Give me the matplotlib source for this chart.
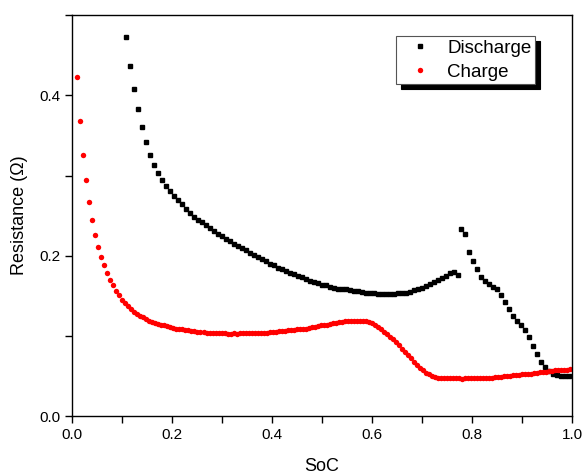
import matplotlib.pyplot as plt
from matplotlib.ticker import MultipleLocator

plt.rcParams['font.family'] = ['Liberation Sans', 'DejaVu Sans']

# discharge (black squares)
soc_dis = [
    0.108, 0.116, 0.124, 0.132, 0.140, 0.148, 0.156, 0.164, 0.172, 0.180,
    0.188, 0.196, 0.204, 0.212, 0.220, 0.228, 0.236, 0.244, 0.252, 0.260,
    0.268, 0.276, 0.284, 0.292, 0.300, 0.308, 0.316, 0.324, 0.332, 0.340,
    0.348, 0.356, 0.364, 0.372, 0.380, 0.388, 0.396, 0.404, 0.412, 0.420,
    0.428, 0.436, 0.444, 0.452, 0.460, 0.468, 0.476, 0.484, 0.492, 0.500,
    0.508, 0.516, 0.524, 0.532, 0.540, 0.548, 0.556, 0.564, 0.572, 0.580,
    0.588, 0.596, 0.604, 0.612, 0.620, 0.628, 0.636, 0.644, 0.652, 0.660,
    0.668, 0.676, 0.684, 0.692, 0.700, 0.708, 0.716, 0.724, 0.732, 0.740,
    0.748, 0.756, 0.764, 0.772,
    0.778, 0.786, 0.794, 0.802, 0.810, 0.818, 0.826, 0.834, 0.842, 0.850,
    0.858, 0.866, 0.874, 0.882, 0.890, 0.898, 0.906, 0.914, 0.922, 0.930,
    0.938, 0.946, 0.954, 0.962, 0.970, 0.978, 0.986, 0.994]
res_dis = [
    0.473, 0.437, 0.408, 0.383, 0.360, 0.342, 0.326, 0.313, 0.303, 0.295,
    0.287, 0.281, 0.275, 0.269, 0.264, 0.258, 0.253, 0.248, 0.245, 0.242,
    0.238, 0.234, 0.231, 0.227, 0.224, 0.221, 0.218, 0.215, 0.212, 0.209,
    0.207, 0.204, 0.201, 0.199, 0.196, 0.193, 0.190, 0.188, 0.185, 0.183,
    0.181, 0.179, 0.177, 0.175, 0.173, 0.171, 0.169, 0.167, 0.166, 0.164,
    0.163, 0.161, 0.160, 0.159, 0.159, 0.158, 0.157, 0.156, 0.156, 0.155,
    0.154, 0.153, 0.153, 0.152, 0.152, 0.152, 0.152, 0.152, 0.153, 0.153,
    0.154, 0.155, 0.157, 0.158, 0.160, 0.162, 0.165, 0.167, 0.170, 0.172,
    0.175, 0.178, 0.180, 0.176,
    0.233, 0.227, 0.205, 0.193, 0.183, 0.174, 0.168, 0.165, 0.161, 0.159,
    0.151, 0.142, 0.133, 0.125, 0.119, 0.114, 0.107, 0.098, 0.087, 0.077,
    0.068, 0.061, 0.056, 0.053, 0.051, 0.050, 0.050, 0.050]

# charge (red dots)
soc_chg = [
    0.011, 0.017, 0.023, 0.029, 0.035, 0.041, 0.047, 0.053, 0.059, 0.065,
    0.071, 0.077, 0.083, 0.089, 0.095, 0.101, 0.107, 0.113, 0.119, 0.125,
    0.131, 0.137, 0.143, 0.149, 0.155, 0.161, 0.167, 0.173, 0.179, 0.185,
    0.191, 0.197, 0.203, 0.209, 0.215, 0.221, 0.227, 0.233, 0.239, 0.245,
    0.251, 0.257, 0.263, 0.269, 0.275, 0.281, 0.287, 0.293, 0.299, 0.305,
    0.311, 0.317, 0.323, 0.329, 0.335, 0.341, 0.347, 0.353, 0.359, 0.365,
    0.371, 0.377, 0.383, 0.389, 0.395, 0.401, 0.407, 0.413, 0.419, 0.425,
    0.431, 0.437, 0.443, 0.449, 0.455, 0.461, 0.467, 0.473, 0.479, 0.485,
    0.491, 0.497, 0.503, 0.509, 0.515, 0.521, 0.527, 0.533, 0.539, 0.545,
    0.551, 0.557, 0.563, 0.569, 0.575, 0.581, 0.587, 0.593, 0.599, 0.605,
    0.611, 0.617, 0.623, 0.629, 0.635, 0.641, 0.647, 0.653, 0.659, 0.665,
    0.671, 0.677, 0.683, 0.689, 0.695, 0.701, 0.707, 0.713, 0.719, 0.725,
    0.731, 0.737, 0.743, 0.749, 0.755, 0.761, 0.767, 0.773, 0.779, 0.785,
    0.791, 0.797, 0.803, 0.809, 0.815, 0.821, 0.827, 0.833, 0.839, 0.845,
    0.851, 0.857, 0.863, 0.869, 0.875, 0.881, 0.887, 0.893, 0.899, 0.905,
    0.911, 0.917, 0.923, 0.929, 0.935, 0.941, 0.947, 0.953, 0.959, 0.965,
    0.971, 0.977, 0.983, 0.989, 0.995]
res_chg = [
    0.423, 0.368, 0.326, 0.294, 0.267, 0.245, 0.226, 0.211, 0.199, 0.188,
    0.179, 0.170, 0.163, 0.156, 0.151, 0.145, 0.141, 0.137, 0.133, 0.130,
    0.127, 0.125, 0.123, 0.121, 0.119, 0.117, 0.116, 0.115, 0.114, 0.113,
    0.112, 0.111, 0.110, 0.109, 0.108, 0.108, 0.107, 0.107, 0.106, 0.106,
    0.105, 0.105, 0.105, 0.104, 0.104, 0.104, 0.103, 0.103, 0.103, 0.103,
    0.102, 0.102, 0.103, 0.102, 0.103, 0.103, 0.103, 0.103, 0.104, 0.103,
    0.104, 0.104, 0.104, 0.104, 0.105, 0.105, 0.105, 0.106, 0.106, 0.106,
    0.107, 0.107, 0.107, 0.108, 0.108, 0.109, 0.109, 0.110, 0.111, 0.111,
    0.112, 0.113, 0.114, 0.114, 0.115, 0.116, 0.116, 0.117, 0.117, 0.118,
    0.118, 0.118, 0.119, 0.119, 0.119, 0.118, 0.118, 0.117, 0.116, 0.114,
    0.111, 0.108, 0.105, 0.102, 0.099, 0.096, 0.092, 0.088, 0.084, 0.080,
    0.076, 0.072, 0.068, 0.064, 0.060, 0.057, 0.054, 0.052, 0.050, 0.049,
    0.048, 0.048, 0.047, 0.047, 0.047, 0.047, 0.047, 0.047, 0.046, 0.047,
    0.047, 0.047, 0.047, 0.047, 0.047, 0.048, 0.048, 0.048, 0.048, 0.049,
    0.049, 0.049, 0.050, 0.050, 0.050, 0.051, 0.051, 0.051, 0.052, 0.052,
    0.053, 0.053, 0.054, 0.054, 0.055, 0.055, 0.055, 0.056, 0.056, 0.057,
    0.057, 0.057, 0.058, 0.058, 0.059]

fig = plt.figure(figsize=(5.85, 4.76), dpi=100)
ax = fig.add_axes([0.123, 0.126, 0.855, 0.842])

ax.plot(soc_dis, res_dis, 's', color='black', markersize=3.4, label='Discharge')
ax.plot(soc_chg, res_chg, 'o', color='red', markersize=3.9, markeredgewidth=0,
        label='Charge')

ax.set_xlim(0, 1.0)
ax.set_ylim(0, 0.5)
ax.xaxis.set_major_locator(MultipleLocator(0.2))
ax.xaxis.set_minor_locator(MultipleLocator(0.1))
ax.yaxis.set_major_locator(MultipleLocator(0.2))
ax.yaxis.set_minor_locator(MultipleLocator(0.1))
ax.tick_params(which='both', direction='out', length=5, width=1, labelsize=11,
               top=False, right=False)
for s in ax.spines.values():
    s.set_linewidth(1)

ax.set_xlabel('SoC', fontsize=13, labelpad=12)
ax.set_ylabel('Resistance (Ω)', fontsize=13, labelpad=8)

leg = ax.legend(loc='upper right', bbox_to_anchor=(0.926, 0.948), fontsize=13.5,
                borderaxespad=0, fancybox=False, framealpha=1,
                edgecolor='#555555',
                shadow={'color': 'black', 'alpha': 1, 'ox': 3.5, 'oy': -3.5},
                handletextpad=0.36, borderpad=0.2, labelspacing=0.35,
                handlelength=2.16, markerscale=1.0)
leg.get_frame().set_linewidth(0.8)

fig.savefig('out.png', dpi=100)
